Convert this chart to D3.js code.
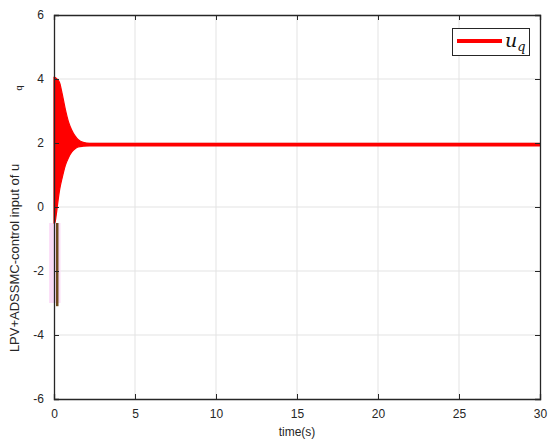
<!DOCTYPE html>
<html><head><meta charset="utf-8">
<script src="https://cdn.jsdelivr.net/npm/d3@7"></script>
<style>body{margin:0;background:#fff}svg{display:block}text{font-family:"Liberation Sans",Arial,sans-serif}</style>
</head><body>
<svg id="c" width="550" height="444"></svg>
<script>
// Data
const xTicks = [0, 5, 10, 15, 20, 25, 30];
const yTicks = [-6, -4, -2, 0, 2, 4, 6];
// envelope of the fast oscillation of u_q
const envT     = [0, 0.05, 0.15, 0.25, 0.35, 0.5, 0.7, 0.9, 1.1, 1.3, 1.5, 1.8, 2.2, 30];
const envUpper = [4.05, 4.05, 4.02, 3.97, 3.88, 3.55, 3.05, 2.65, 2.4, 2.22, 2.1, 2.02, 1.99, 1.99];
const envLower = [-0.5, -0.5, -0.2, 0.2, 0.55, 0.9, 1.3, 1.55, 1.72, 1.82, 1.88, 1.9, 1.91, 1.91];
// dark spike near t=0.2
const spikeT = [0.2, 0.2];
const spikeV = [-0.5, -3.1];
const shadeT = [-0.3, 0.4];
const shadeV = [-0.5, -3.0];
const legendLabel = "u";
const legendSub = "q";

const svg = d3.select("#c");
const m = {l: 54, r: 540, t: 15, b: 399};
const x = d3.scaleLinear().domain([0, 30]).range([m.l, m.r]);
const y = d3.scaleLinear().domain([-6, 6]).range([m.b, m.t]);
const axisCol = "#262626";
const fmt = d => String(d);

// grid
svg.append("g").selectAll("line").data(xTicks.slice(1, -1)).join("line")
  .attr("x1", d => x(d)).attr("x2", d => x(d)).attr("y1", m.t).attr("y2", m.b)
  .attr("stroke", "#e3e3e3").attr("stroke-width", 1);
svg.append("g").selectAll("line").data(yTicks.slice(1, -1)).join("line")
  .attr("y1", d => y(d)).attr("y2", d => y(d)).attr("x1", m.l).attr("x2", m.r)
  .attr("stroke", "#e3e3e3").attr("stroke-width", 1);

// pink shading
svg.append("rect")
  .attr("x", x(shadeT[0])).attr("width", x(shadeT[1]) - x(shadeT[0]))
  .attr("y", y(shadeV[0])).attr("height", y(shadeV[1]) - y(shadeV[0]))
  .attr("fill", "#fbdcf7");

// envelope band
const env = envT.map((t, i) => ({t, u: envUpper[i], l: envLower[i]}));
svg.append("path").datum(env)
  .attr("d", d3.area().x(d => x(d.t)).y0(d => y(d.l)).y1(d => y(d.u)).curve(d3.curveMonotoneX))
  .attr("fill", "#ff0000").attr("stroke", "#ff0000").attr("stroke-width", 1.2);

// spike
svg.append("line")
  .attr("x1", x(spikeT[0])).attr("x2", x(spikeT[1]))
  .attr("y1", y(spikeV[0])).attr("y2", y(spikeV[1]))
  .attr("stroke", "#6e4a1c").attr("stroke-width", 2.5);

// axes
const gx = svg.append("g").attr("transform", `translate(0,${m.b})`)
  .call(d3.axisBottom(x).tickValues(xTicks).tickSize(-5).tickPadding(10).tickFormat(fmt));
const gy = svg.append("g").attr("transform", `translate(${m.l},0)`)
  .call(d3.axisLeft(y).tickValues(yTicks).tickSize(-5).tickPadding(10).tickFormat(fmt));
const gx2 = svg.append("g").attr("transform", `translate(0,${m.t})`)
  .call(d3.axisTop(x).tickValues(xTicks).tickSize(-5).tickFormat(""));
const gy2 = svg.append("g").attr("transform", `translate(${m.r},0)`)
  .call(d3.axisRight(y).tickValues(yTicks).tickSize(-5).tickFormat(""));
[gx, gy, gx2, gy2].forEach(g => {
  g.selectAll("path").attr("stroke", axisCol).attr("stroke-width", 1.3);
  g.selectAll("line").attr("stroke", axisCol);
  g.selectAll("text").attr("fill", axisCol).style("font-size", "12px")
    .style("font-family", "'Liberation Sans',Arial,sans-serif");
});

// labels
svg.append("text").attr("x", x(15)).attr("y", 436).attr("text-anchor", "middle")
  .attr("fill", axisCol).style("font-size", "12px").text("time(s)");
svg.append("text").attr("transform", "translate(19,258) rotate(-90)")
  .attr("text-anchor", "middle").attr("fill", axisCol).style("font-size", "13px")
  .text("LPV+ADSSMC-control input of u");
svg.append("text").attr("transform", "translate(22,88) rotate(-90)")
  .attr("text-anchor", "middle").attr("fill", axisCol).style("font-size", "9px")
  .text("q");

// legend
svg.append("rect").attr("x", 452.5).attr("y", 28.5).attr("width", 77).attr("height", 27)
  .attr("fill", "#fff").attr("stroke", axisCol).attr("stroke-width", 1);
svg.append("line").attr("x1", 457).attr("x2", 502).attr("y1", 41).attr("y2", 41)
  .attr("stroke", "#ff0000").attr("stroke-width", 4);
const lt = svg.append("text").attr("x", 505).attr("y", 47)
  .style("font-family", "'DejaVu Serif','Liberation Serif',serif")
  .style("font-style", "italic").style("font-size", "19px")
  .attr("fill", "#111");
lt.append("tspan").text(legendLabel);
lt.append("tspan").attr("dy", 4).style("font-size", "13px").text(legendSub);
</script>
</body></html>
